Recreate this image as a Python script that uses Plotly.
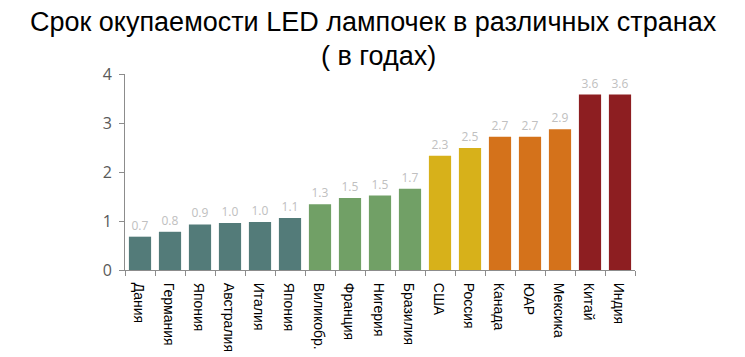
import plotly.graph_objects as go

countries = ["Дания", "Германия", "Япония", "Австралия", "Италия", "Япония",
             "Виликобр.", "Франция", "Нигерия", "Бразилия", "США", "Россия",
             "Канада", "ЮАР", "Мексика", "Китай", "Индия"]
years = [0.68, 0.78, 0.93, 0.96, 0.98, 1.06, 1.34, 1.47, 1.52, 1.66,
         2.33, 2.49, 2.72, 2.72, 2.87, 3.58, 3.58]
groups = ["a"] * 6 + ["b"] * 4 + ["c"] * 2 + ["d"] * 3 + ["e"] * 2
group_colors = {"a": "#537B79", "b": "#71A066", "c": "#D7B11A",
                "d": "#D4721B", "e": "#8D1E21"}
y_ticks = [0, 1, 2, 3, 4]
title_lines = ["Срок окупаемости LED лампочек в различных странах", "( в годах)"]

x = list(range(len(countries)))
label_pos = [i - 0.06 for i in x]

fig = go.Figure(go.Bar(
    x=x, y=years,
    marker=dict(color=[group_colors[g] for g in groups], line=dict(width=0)),
    texttemplate="%{y:.1f}", textposition="outside", cliponaxis=False,
    textfont=dict(family="Open Sans", size=12, color="#C0C0C0"),
    width=0.74,
))

title_font = dict(family="Liberation Sans", size=27, color="black")
fig.update_layout(
    width=737, height=349,
    margin=dict(l=117, r=110, t=66, b=87),
    paper_bgcolor="white", plot_bgcolor="white",
    showlegend=False,
    annotations=[
        dict(text=title_lines[0], xref="paper", yref="paper", x=0.5, xanchor="center",
             xshift=-7, y=1, yanchor="top", yshift=69, showarrow=False, font=title_font),
        dict(text=title_lines[1], xref="paper", yref="paper", x=0.5, xanchor="center",
             xshift=-2, y=1, yanchor="middle", yshift=18, showarrow=False, font=title_font),
    ],
    xaxis=dict(range=[-0.5, len(countries) - 0.5], tickvals=label_pos, ticktext=countries,
               tickangle=90, ticks="", showgrid=False, zeroline=False, automargin=False,
               showline=True, linecolor="#8C8C8C", linewidth=1, ticklabelstandoff=9,
               tickfont=dict(family="Liberation Sans", size=14, color="black"),
               minor=dict(ticks="outside", tick0=-0.5, dtick=1, ticklen=5,
                          tickcolor="#8C8C8C", showgrid=False)),
    yaxis=dict(range=[0, 4], tickvals=y_ticks, showgrid=False, zeroline=False,
               showline=True, linecolor="#8C8C8C", linewidth=1, automargin=False,
               ticks="outside", ticklen=5, tickcolor="#8C8C8C", ticklabelstandoff=4,
               tickfont=dict(family="Open Sans", size=16, color="#595959")),
    bargap=0.26,
)

fig.write_html("out.html")
